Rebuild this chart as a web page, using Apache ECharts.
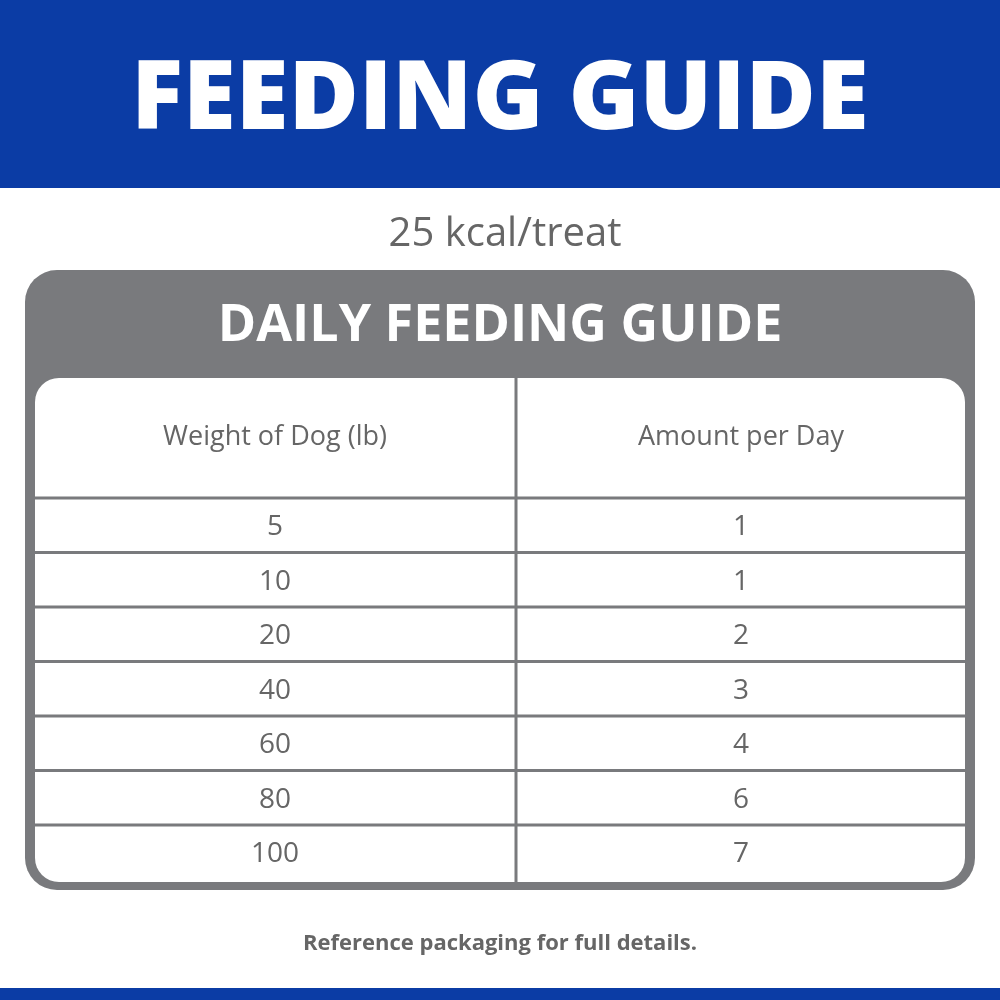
<!DOCTYPE html>
<html>
<head>
<meta charset="utf-8">
<script src="https://cdn.jsdelivr.net/npm/echarts@6/dist/echarts.min.js"></script>
<style>html,body{margin:0;padding:0;background:#fff}#chart{width:1000px;height:1000px}</style>
</head>
<body>
<div id="chart"></div>
<script>
var title = 'FEEDING GUIDE';
var subtitle = '25 kcal/treat';
var tableTitle = 'DAILY FEEDING GUIDE';
var columns = ['Weight of Dog (lb)', 'Amount per Day'];
var weights = ['5', '10', '20', '40', '60', '80', '100'];
var amounts = ['1', '1', '2', '3', '4', '6', '7'];
var footer = 'Reference packaging for full details.';

var blue = '#0b3ca5', gray = '#797a7d', txt = '#666';
var font = 'Open Sans';
var left = 35, right = 965, mid = 516, headTop = 378, rowTop = 498, rowH = 54.5;

var els = [
  {type: 'rect', shape: {x: 0, y: 0, width: 1000, height: 188}, style: {fill: blue}},
  {type: 'rect', shape: {x: 0, y: 988, width: 1000, height: 12}, style: {fill: blue}},
  {type: 'text', x: 500, y: 102, style: {text: title, fill: '#fff', font: '800 96px "' + font + '"', align: 'center', verticalAlign: 'middle'}},
  {type: 'text', x: 505, y: 235, style: {text: subtitle, fill: txt, font: '40px "' + font + '"', align: 'center', verticalAlign: 'middle'}},
  {type: 'rect', shape: {x: 25, y: 270, width: 950, height: 620, r: 32}, style: {fill: gray}},
  {type: 'text', x: 500, y: 326, style: {text: tableTitle, fill: '#fff', font: 'bold 52px "' + font + '"', align: 'center', verticalAlign: 'middle'}},
  {type: 'rect', shape: {x: left, y: headTop, width: right - left, height: 504, r: 24}, style: {fill: '#fff'}},
  {type: 'line', shape: {x1: mid, y1: headTop, x2: mid, y2: 882}, style: {stroke: gray, lineWidth: 3}},
  {type: 'text', x: 275, y: 437, style: {text: columns[0], fill: txt, font: '27px "' + font + '"', align: 'center', verticalAlign: 'middle'}},
  {type: 'text', x: 741, y: 437, style: {text: columns[1], fill: txt, font: '27px "' + font + '"', align: 'center', verticalAlign: 'middle'}},
  {type: 'text', x: 500, y: 944, style: {text: footer, fill: txt, font: 'bold 22px "' + font + '"', align: 'center', verticalAlign: 'middle'}}
];
weights.forEach(function (w, i) {
  var y = rowTop + i * rowH;
  els.push({type: 'line', shape: {x1: left, y1: y, x2: right, y2: y}, style: {stroke: gray, lineWidth: 3}});
  els.push({type: 'text', x: 275, y: y + rowH / 2 + 2, style: {text: w, fill: txt, font: '28px "' + font + '"', align: 'center', verticalAlign: 'middle'}});
  els.push({type: 'text', x: 741, y: y + rowH / 2 + 2, style: {text: amounts[i], fill: txt, font: '28px "' + font + '"', align: 'center', verticalAlign: 'middle'}});
});

var chart = echarts.init(document.getElementById('chart'));
chart.setOption({animation: false, graphic: {elements: els}});
</script>
</body>
</html>
